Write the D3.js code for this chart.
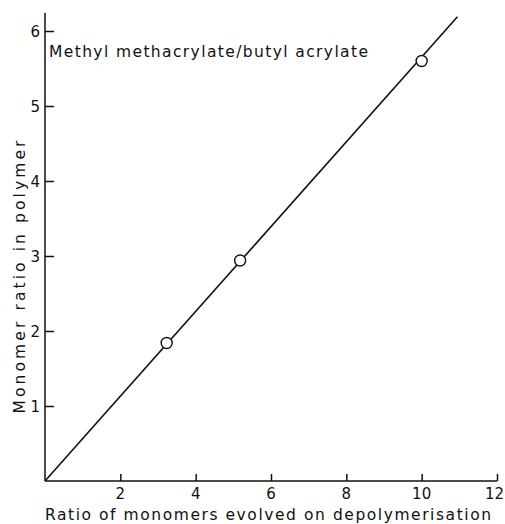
<!DOCTYPE html>
<html>
<head>
<meta charset="utf-8">
<script src="https://cdn.jsdelivr.net/npm/d3@7"></script>
<style>
  body { margin: 0; background: #fff; }
  text { font-family: "DejaVu Sans", sans-serif; fill: #111; }
</style>
</head>
<body>
<div id="chart"></div>
<script>
const width = 505;
const height = 524;
const margin = {top: 13, right: 8, bottom: 43, left: 45};

// measured points (ratio evolved, ratio in polymer)
const evolved = [3.23, 5.18, 10.0];
const inPolymer = [1.84, 2.94, 5.6];
// fitted straight line through the origin
const lineX = [0, 10.95];
const lineY = [0, 6.19];

const xTicks = [2, 4, 6, 8, 10, 12];
const yTicks = [1, 2, 3, 4, 5, 6];

const svg = d3.select("#chart")
    .append("svg")
    .attr("width", width)
    .attr("height", height);

const x = d3.scaleLinear().domain([0, 12]).range([margin.left, 497]);
const y = d3.scaleLinear().domain([0, 6.24]).range([481, margin.top]);

// x axis, ticks pointing inward
const xAxis = d3.axisTop(x).tickValues(xTicks).tickSize(7).tickFormat("");
const gx = svg.append("g")
    .attr("transform", `translate(0,${y(0)})`)
    .call(xAxis);
gx.select(".domain").attr("d", `M${x(0)},0H${x(12)}`);

svg.append("g").selectAll("text")
    .data(xTicks)
    .join("text")
    .attr("x", d => x(d))
    .attr("dx", d => d === 12 ? -2.5 : 0) // keep the last label inside the page
    .attr("y", y(0) + 18)
    .attr("text-anchor", "middle")
    .attr("font-size", 15)
    .text(d => d);

// y axis, ticks pointing inward
const yAxis = d3.axisRight(y).tickValues(yTicks).tickSize(9).tickFormat("");
const gy = svg.append("g")
    .attr("transform", `translate(${x(0)},0)`)
    .call(yAxis);
gy.select(".domain").attr("d", `M0,${y(0)}V${y(6.24)}`);

svg.append("g").selectAll("text")
    .data(yTicks)
    .join("text")
    .attr("x", x(0) - 5)
    .attr("y", d => y(d) + 5.5)
    .attr("text-anchor", "end")
    .attr("font-size", 15)
    .text(d => d);

svg.selectAll(".domain, .tick line")
    .attr("stroke", "#111")
    .attr("stroke-width", 1.5);

// fitted line
const line = d3.line()
    .x(d => x(d[0]))
    .y(d => y(d[1]));

svg.append("path")
    .datum(d3.zip(lineX, lineY))
    .attr("d", line)
    .attr("fill", "none")
    .attr("stroke", "#111")
    .attr("stroke-width", 1.6);

// points
svg.append("g").selectAll("circle")
    .data(d3.zip(evolved, inPolymer))
    .join("circle")
    .attr("cx", d => x(d[0]))
    .attr("cy", d => y(d[1]))
    .attr("r", 5.5)
    .attr("fill", "#fff")
    .attr("stroke", "#111")
    .attr("stroke-width", 1.4);

// labels
svg.append("text")
    .attr("x", 49)
    .attr("y", 57)
    .attr("font-size", 15.5)
    .attr("textLength", 319)
    .attr("lengthAdjust", "spacing")
    .text("Methyl methacrylate/butyl acrylate");

svg.append("text")
    .attr("x", 45)
    .attr("y", 520)
    .attr("font-size", 15.5)
    .attr("textLength", 446)
    .attr("lengthAdjust", "spacing")
    .text("Ratio of monomers evolved on depolymerisation");

svg.append("text")
    .attr("transform", `translate(25,277) rotate(-90)`)
    .attr("text-anchor", "middle")
    .attr("font-size", 15.5)
    .attr("textLength", 273)
    .attr("lengthAdjust", "spacing")
    .text("Monomer ratio in polymer");
</script>
</body>
</html>
